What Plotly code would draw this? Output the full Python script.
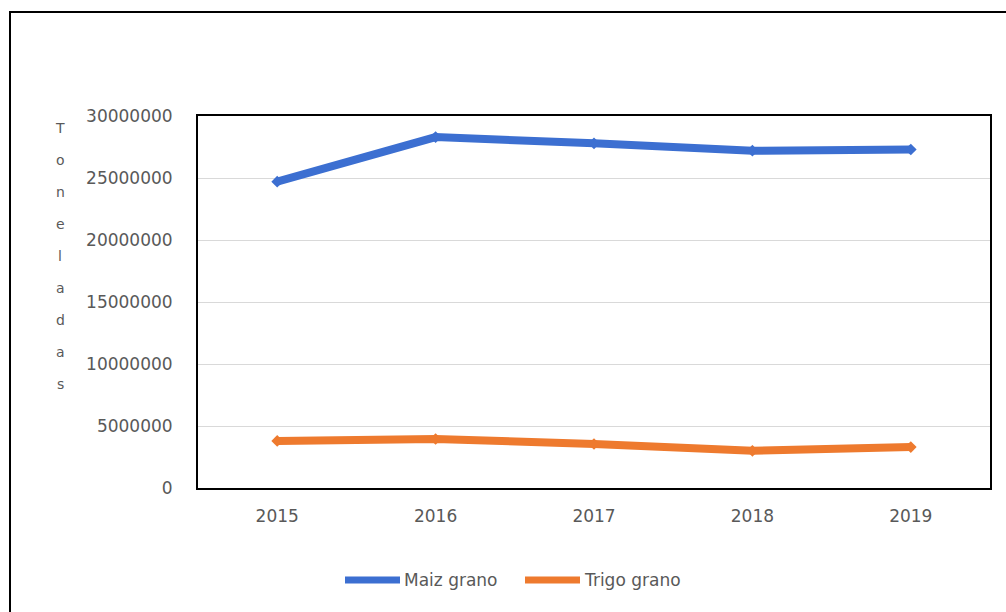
import plotly.graph_objects as go

years = ["2015", "2016", "2017", "2018", "2019"]
maiz_grano = [24700000, 28300000, 27800000, 27200000, 27300000]
trigo_grano = [3800000, 3950000, 3550000, 3000000, 3300000]
y_ticks = [0, 5000000, 10000000, 15000000, 20000000, 25000000, 30000000]
axis_title = "Toneladas"
series_names = ["Maiz grano", "Trigo grano"]
series_colors = ["#3C6FD1", "#EE7A2E"]

W, H = 1006, 612
L, R, T, B = 198, 16, 116, 124
pw, ph = W - L - R, H - T - B


def px_x(x):
    return (x - L) / pw


def px_y(y):
    return (H - B - y) / ph


fig = go.Figure()
for name, vals, color in zip(series_names, [maiz_grano, trigo_grano], series_colors):
    fig.add_trace(go.Scatter(
        x=years, y=vals, name=name, mode="lines+markers",
        line=dict(color=color, width=8),
        marker=dict(symbol="diamond", size=9, color=color),
        showlegend=False,
    ))

font = dict(family="DejaVu Sans, Arial, sans-serif", size=17, color="#595959")

fig.update_layout(
    width=W, height=H,
    margin=dict(l=L, r=R, t=T, b=B),
    paper_bgcolor="white", plot_bgcolor="white",
    font=font,
    xaxis=dict(type="category", range=[-0.5, 4.5], showgrid=False,
               showline=True, linecolor="black", linewidth=2, mirror=True,
               ticks="", tickfont=font, ticklabelstandoff=12),
    yaxis=dict(range=[0, 30000000], tickvals=y_ticks,
               ticktext=[str(v) for v in y_ticks],
               showgrid=True, gridcolor="#D9D9D9", gridwidth=1,
               showline=True, linecolor="black", linewidth=2, mirror=True,
               zeroline=False, ticks="", tickfont=font, ticklabelstandoff=20),
)

# vertical stacked axis title, one letter per line
for i, ch in enumerate(axis_title):
    fig.add_annotation(
        text=ch, xref="paper", yref="paper",
        x=px_x(60), y=px_y(128 + i * 32),
        xanchor="center", yanchor="middle", showarrow=False,
        font=dict(family="DejaVu Sans, Arial, sans-serif", size=14, color="#595959"),
    )

# legend: long line swatch followed by the series name
legend_starts = [345, 525]
for x0, name, color in zip(legend_starts, series_names, series_colors):
    fig.add_shape(
        type="line", xref="paper", yref="paper",
        x0=px_x(x0), x1=px_x(x0 + 55), y0=px_y(580), y1=px_y(580),
        line=dict(color=color, width=7),
    )
    fig.add_annotation(
        text=name, xref="paper", yref="paper",
        x=px_x(x0 + 57), y=px_y(580),
        xanchor="left", yanchor="middle", showarrow=False, font=font,
    )

# outer chart frame
fig.add_shape(
    type="rect", xref="paper", yref="paper",
    x0=px_x(10), x1=px_x(1010), y0=px_y(620), y1=px_y(12),
    line=dict(color="black", width=2), layer="below",
)

fig.write_html("out.html")
